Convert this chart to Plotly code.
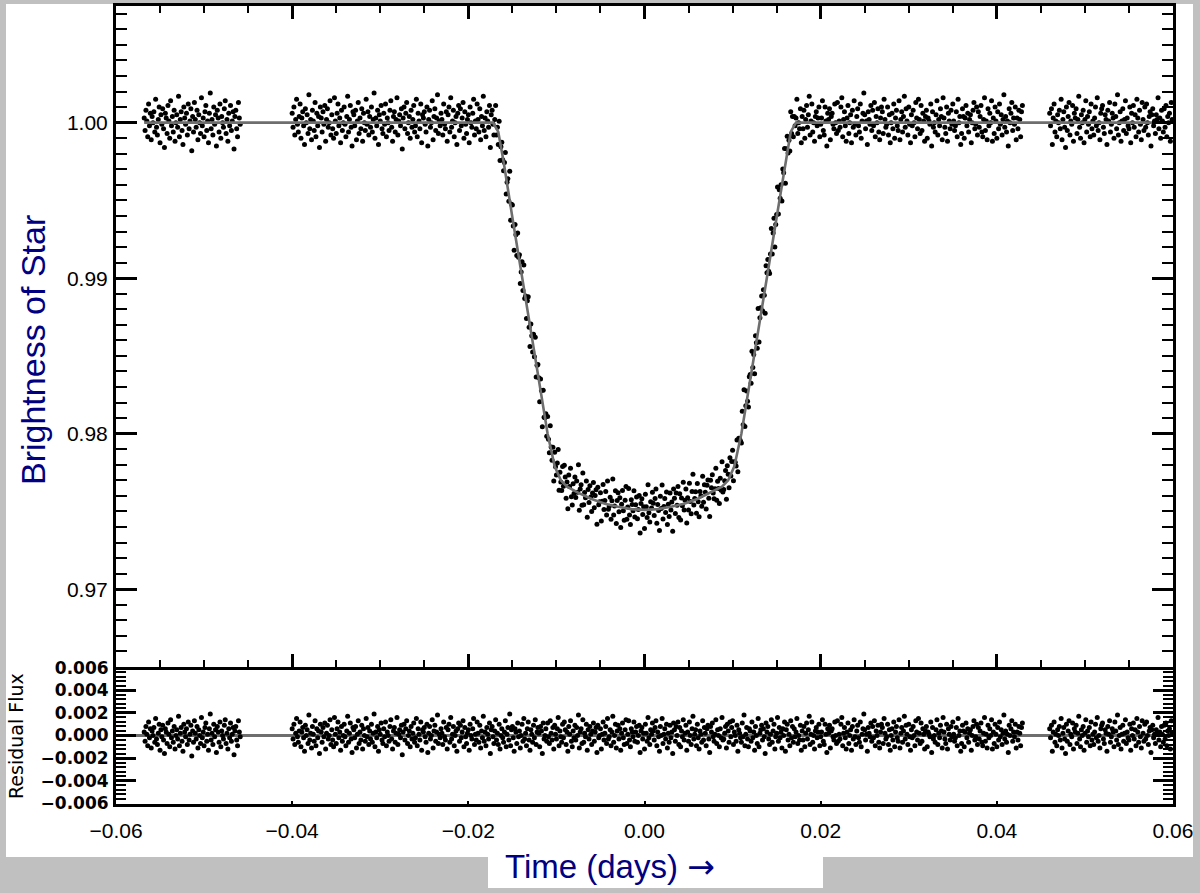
import numpy as np
import plotly.graph_objects as go

# ---------------- data ----------------
# observation times, in units of 1e-4 day
TIME_A = [
    -568, -567, -566, -565, -564, -563, -562, -561, -560, -559,
    -558, -557, -556, -555, -554, -553, -552, -551, -550, -549,
    -548, -547, -546, -545, -544, -543, -542, -541, -540, -539,
    -538, -537, -536, -535, -534, -533, -532, -531, -530, -529,
    -528, -527, -526, -525, -524, -523, -522, -521, -520, -519,
    -518, -517, -516, -515, -514, -513, -512, -511, -510, -509,
    -508, -507, -506, -505, -504, -503, -502, -501, -500, -499,
    -498, -497, -496, -495, -494, -493, -492, -491, -490, -489,
    -488, -487, -486, -485, -484, -483, -482, -481, -480, -479,
    -478, -477, -476, -475, -474, -473, -472, -471, -470, -469,
    -468, -467, -466, -465, -464, -463, -462, -461, -460, -459,
]
TIME_B = [
    -400, -399, -398, -397, -396, -395, -394, -393, -392, -391,
    -390, -389, -388, -387, -386, -385, -384, -383, -382, -381,
    -380, -379, -378, -377, -376, -375, -374, -373, -372, -371,
    -370, -369, -368, -367, -366, -365, -364, -363, -362, -361,
    -360, -359, -358, -357, -356, -355, -354, -353, -352, -351,
    -350, -349, -348, -347, -346, -345, -344, -343, -342, -341,
    -340, -339, -338, -337, -336, -335, -334, -333, -332, -331,
    -330, -329, -328, -327, -326, -325, -324, -323, -322, -321,
    -320, -319, -318, -317, -316, -315, -314, -313, -312, -311,
    -310, -309, -308, -307, -306, -305, -304, -303, -302, -301,
    -300, -299, -298, -297, -296, -295, -294, -293, -292, -291,
    -290, -289, -288, -287, -286, -285, -284, -283, -282, -281,
    -280, -279, -278, -277, -276, -275, -274, -273, -272, -271,
    -270, -269, -268, -267, -266, -265, -264, -263, -262, -261,
    -260, -259, -258, -257, -256, -255, -254, -253, -252, -251,
    -250, -249, -248, -247, -246, -245, -244, -243, -242, -241,
    -240, -239, -238, -237, -236, -235, -234, -233, -232, -231,
    -230, -229, -228, -227, -226, -225, -224, -223, -222, -221,
    -220, -219, -218, -217, -216, -215, -214, -213, -212, -211,
    -210, -209, -208, -207, -206, -205, -204, -203, -202, -201,
    -200, -199, -198, -197, -196, -195, -194, -193, -192, -191,
    -190, -189, -188, -187, -186, -185, -184, -183, -182, -181,
    -180, -179, -178, -177, -176, -175, -174, -173, -172, -171,
    -170, -169, -168, -167, -166, -165, -164, -163, -162, -161,
    -160, -159, -158, -157, -156, -155, -154, -153, -152, -151,
    -150, -149, -148, -147, -146, -145, -144, -143, -142, -141,
    -140, -139, -138, -137, -136, -135, -134, -133, -132, -131,
    -130, -129, -128, -127, -126, -125, -124, -123, -122, -121,
    -120, -119, -118, -117, -116, -115, -114, -113, -112, -111,
    -110, -109, -108, -107, -106, -105, -104, -103, -102, -101,
    -100, -99, -98, -97, -96, -95, -94, -93, -92, -91,
    -90, -89, -88, -87, -86, -85, -84, -83, -82, -81,
    -80, -79, -78, -77, -76, -75, -74, -73, -72, -71,
    -70, -69, -68, -67, -66, -65, -64, -63, -62, -61,
    -60, -59, -58, -57, -56, -55, -54, -53, -52, -51,
    -50, -49, -48, -47, -46, -45, -44, -43, -42, -41,
    -40, -39, -38, -37, -36, -35, -34, -33, -32, -31,
    -30, -29, -28, -27, -26, -25, -24, -23, -22, -21,
    -20, -19, -18, -17, -16, -15, -14, -13, -12, -11,
    -10, -9, -8, -7, -6, -5, -4, -3, -2, -1,
    0, 1, 2, 3, 4, 5, 6, 7, 8, 9,
    10, 11, 12, 13, 14, 15, 16, 17, 18, 19,
    20, 21, 22, 23, 24, 25, 26, 27, 28, 29,
    30, 31, 32, 33, 34, 35, 36, 37, 38, 39,
    40, 41, 42, 43, 44, 45, 46, 47, 48, 49,
    50, 51, 52, 53, 54, 55, 56, 57, 58, 59,
    60, 61, 62, 63, 64, 65, 66, 67, 68, 69,
    70, 71, 72, 73, 74, 75, 76, 77, 78, 79,
    80, 81, 82, 83, 84, 85, 86, 87, 88, 89,
    90, 91, 92, 93, 94, 95, 96, 97, 98, 99,
    100, 101, 102, 103, 104, 105, 106, 107, 108, 109,
    110, 111, 112, 113, 114, 115, 116, 117, 118, 119,
    120, 121, 122, 123, 124, 125, 126, 127, 128, 129,
    130, 131, 132, 133, 134, 135, 136, 137, 138, 139,
    140, 141, 142, 143, 144, 145, 146, 147, 148, 149,
    150, 151, 152, 153, 154, 155, 156, 157, 158, 159,
    160, 161, 162, 163, 164, 165, 166, 167, 168, 169,
    170, 171, 172, 173, 174, 175, 176, 177, 178, 179,
    180, 181, 182, 183, 184, 185, 186, 187, 188, 189,
    190, 191, 192, 193, 194, 195, 196, 197, 198, 199,
    200, 201, 202, 203, 204, 205, 206, 207, 208, 209,
    210, 211, 212, 213, 214, 215, 216, 217, 218, 219,
    220, 221, 222, 223, 224, 225, 226, 227, 228, 229,
    230, 231, 232, 233, 234, 235, 236, 237, 238, 239,
    240, 241, 242, 243, 244, 245, 246, 247, 248, 249,
    250, 251, 252, 253, 254, 255, 256, 257, 258, 259,
    260, 261, 262, 263, 264, 265, 266, 267, 268, 269,
    270, 271, 272, 273, 274, 275, 276, 277, 278, 279,
    280, 281, 282, 283, 284, 285, 286, 287, 288, 289,
    290, 291, 292, 293, 294, 295, 296, 297, 298, 299,
    300, 301, 302, 303, 304, 305, 306, 307, 308, 309,
    310, 311, 312, 313, 314, 315, 316, 317, 318, 319,
    320, 321, 322, 323, 324, 325, 326, 327, 328, 329,
    330, 331, 332, 333, 334, 335, 336, 337, 338, 339,
    340, 341, 342, 343, 344, 345, 346, 347, 348, 349,
    350, 351, 352, 353, 354, 355, 356, 357, 358, 359,
    360, 361, 362, 363, 364, 365, 366, 367, 368, 369,
    370, 371, 372, 373, 374, 375, 376, 377, 378, 379,
    380, 381, 382, 383, 384, 385, 386, 387, 388, 389,
    390, 391, 392, 393, 394, 395, 396, 397, 398, 399,
    400, 401, 402, 403, 404, 405, 406, 407, 408, 409,
    410, 411, 412, 413, 414, 415, 416, 417, 418, 419,
    420, 421, 422, 423, 424, 425, 426, 427, 428, 429,
]
TIME_C = [
    460, 461, 462, 463, 464, 465, 466, 467, 468, 469,
    470, 471, 472, 473, 474, 475, 476, 477, 478, 479,
    480, 481, 482, 483, 484, 485, 486, 487, 488, 489,
    490, 491, 492, 493, 494, 495, 496, 497, 498, 499,
    500, 501, 502, 503, 504, 505, 506, 507, 508, 509,
    510, 511, 512, 513, 514, 515, 516, 517, 518, 519,
    520, 521, 522, 523, 524, 525, 526, 527, 528, 529,
    530, 531, 532, 533, 534, 535, 536, 537, 538, 539,
    540, 541, 542, 543, 544, 545, 546, 547, 548, 549,
    550, 551, 552, 553, 554, 555, 556, 557, 558, 559,
    560, 561, 562, 563, 564, 565, 566, 567, 568, 569,
    570, 571, 572, 573, 574, 575, 576, 577, 578, 579,
    580, 581, 582, 583, 584, 585, 586, 587, 588, 589,
    590, 591, 592, 593, 594, 595, 596, 597, 598, 599,
]

# residual flux (data - model), in units of 1e-4
RESID_A = [
    3, -5, 8, 1, -9, 12, -2, 6, -11, 4,
    0, 7, -6, 15, -3, -8, 2, 10, -13, 5,
    -1, 9, -4, -16, 6, 3, -7, 11, 1, -10,
    14, -2, 4, -6, 8, -12, 0, 5, -3, 17,
    -9, 2, 7, -5, -14, 10, 3, -1, 6, -8,
    12, -4, 1, 9, -18, 4, -6, 13, 2, -3,
    8, -11, 5, 0, -7, 16, -2, 3, -9, 7,
    11, -5, 1, -13, 6, 19, -4, 2, -8, 10,
    -1, 5, -15, 8, 3, -6, 12, -10, 4, 0,
    -3, 9, 14, -7, 2, -12, 6, -2, 11, -5,
    1, 7, -17, 4, 8, -4, -9, 13, 3, -1,
]
RESID_B = [
    6, -3, 10, -8, 2, 15, -1, -6, 4, 12,
    -10, 3, 7, -2, -14, 9, 0, 5, -7, 18,
    -4, 2, -11, 8, 1, -5, 13, -9, 6, -2,
    4, -16, 10, 3, -6, 7, -1, 11, -12, 2,
    9, -3, 0, 14, -8, 5, -4, -10, 16, 1,
    -7, 6, 12, -2, 3, -13, 8, -5, 0, 10,
    -1, -9, 4, 17, -6, 2, 11, -3, -15, 7,
    5, -2, 8, -11, 1, 13, -7, 3, -4, 9,
    -12, 6, 0, -5, 15, -1, 7, -8, 4, -3,
    10, -6, 2, 19, -10, 3, -2, 8, -14, 5,
    1, 11, -4, -7, 6, -1, 12, -9, 3, 0,
    -5, 8, 14, -3, -12, 4, 7, -6, 2, 16,
    -8, 1, 5, -2, 9, -17, 3, 10, -4, 6,
    13, -7, 0, 4, -10, 8, -3, 2, 11, -6,
    -2, 15, -9, 6, 1, -4, 12, -13, 5, 3,
    7, -1, -6, 10, -15, 2, 8, -3, 0, 14,
    -11, 4, 9, -5, 3, 18, -7, 1, -2, 6,
    2, -8, 12, -1, -4, 7, -12, 5, 10, -6,
    16, -3, 1, 8, -9, 0, 4, -14, 6, 11,
    -5, 9, -2, 3, 13, -10, 7, -1, -7, 2,
    5, -13, 10, 0, -3, 6, 15, -8, 1, -4,
    12, 2, -6, 9, -11, 4, -2, 17, -5, 3,
    -9, 7, 1, -3, 11, -16, 5, 8, -1, -7,
    4, 14, -4, 2, -8, 10, -12, 0, 6, -2,
    -6, 3, 13, -10, 1, 7, -4, 19, -9, 5,
    8, -2, -14, 6, 3, -7, 11, -1, 4, -11,
    0, 10, -5, 15, -3, 2, -9, 6, 12, -4,
    -13, 5, 1, -6, 9, -2, 14, -8, 3, 7,
    2, -10, 8, 4, -16, 11, -3, 0, 6, -5,
    11, -1, -7, 13, 2, -4, 7, -12, 9, 1,
    -3, 6, 16, -9, 4, -1, -6, 10, -2, 12,
    5, -8, 3, -14, 8, 1, 13, -5, -10, 4,
    -2, 9, -4, 7, 0, 18, -11, 3, 6, -7,
    14, -6, 2, -1, 10, -13, 5, -3, 8, 1,
    -8, 4, 11, -5, 3, 7, -15, 9, -2, 0,
    6, -12, 1, 12, -4, 2, 8, -7, 15, -3,
    -1, 5, -9, 3, 17, -6, 0, 10, -11, 4,
    9, -3, 6, -13, 2, 11, -2, -8, 5, 14,
    -7, 1, 13, -4, -10, 6, 3, -1, 12, -5,
    3, 8, -6, 0, 9, -15, 4, 7, -3, 2,
    -12, 10, 2, -5, 16, -2, -8, 5, 1, 11,
    4, -4, 7, 13, -9, 3, -1, -14, 8, 0,
    15, -7, 1, 6, -3, 10, -11, 2, -6, 9,
    -2, 3, -16, 11, 5, -5, 8, 0, 12, -8,
    7, -10, 4, -1, 14, -4, 2, 9, -13, 3,
    -5, 12, 0, -8, 6, 17, -3, 1, 5, -9,
    10, -2, -12, 4, 1, -6, 13, -4, 7, 2,
    -9, 6, 9, -3, -15, 8, 3, 11, -1, -5,
    1, 14, -7, 5, 0, -10, 6, -2, 16, -4,
    -3, 2, 8, -11, 10, 4, -6, 12, -1, 7,
    13, -8, 3, 0, -5, 9, -14, 5, 2, -2,
    -6, 11, -1, 18, -9, 1, 7, -3, -10, 6,
    4, -5, 12, -2, 3, -13, 8, 0, -7, 15,
    -10, 2, 5, 9, -4, 6, -1, -16, 11, 3,
    8, -3, -8, 1, 14, -6, 4, 10, -12, -1,
    2, 16, -5, 7, -2, 3, -11, 6, 0, 12,
    -14, 5, 10, -4, 1, -9, 13, -2, 8, -6,
    6, -1, 3, 15, -7, 0, -4, 9, -13, 4,
    -4, 8, -10, 2, 11, -3, 5, 17, -8, 1,
    12, -6, 0, -12, 4, 7, -2, 3, 10, -9,
    -1, 3, 14, -5, -8, 10, 1, -15, 6, 2,
    9, -11, 4, 6, -1, -4, 12, 0, -7, 13,
    -5, 1, -3, 10, 16, -9, 2, 7, -2, -12,
    3, 11, -7, 0, 5, -13, 8, -3, 14, -1,
    -8, 4, 9, -2, -6, 12, -10, 1, 6, 19,
    5, -4, 1, -14, 7, 2, -1, 11, -5, 8,
    -2, 13, -9, 4, 0, 9, -6, -11, 3, 10,
    7, -7, 15, 2, -3, -1, 10, -8, 5, -13,
    0, 6, -4, 12, -10, 3, 8, -2, -5, 14,
    -11, 2, 7, -6, 4, 17, -3, 9, 1, -8,
    10, -1, -13, 5, -2, 8, 0, -9, 13, 3,
    -4, 15, 2, -7, 11, -5, 6, 1, -12, 4,
    8, -10, 3, 1, -1, 12, -15, 7, -3, 0,
    -6, 5, 14, -8, 2, -2, 9, 4, -11, 16,
    3, -3, -7, 10, -12, 6, 1, -4, 8, -1,
    12, 1, -5, -2, 7, -9, 15, 0, 4, -14,
    -7, 9, 4, -10, 3, 11, -2, 6, -6, 2,
    5, -13, 0, 8, 13, -4, -1, 10, -8, 7,
    -3, 4, 11, -6, -9, 2, 16, -5, 1, -11,
    9, -2, 6, 0, 14, -12, 3, -7, 10, 1,
    -10, 7, -4, 12, -1, 5, -8, 2, 18, -3,
    4, -6, 1, -15, 9, 0, 6, 13, -5, 3,
    -1, 10, -11, 3, -4, 8, 2, -9, 7, 11,
]
RESID_C = [
    6, -2, 9, -14, 3, 12, -6, 1, -9, 5,
    0, 8, -4, 15, -11, 2, 7, -3, -16, 10,
    -5, 4, 13, -8, 1, -1, 11, -12, 6, 3,
    9, -7, 2, 17, -3, -10, 5, 0, 8, -13,
    2, 14, -6, 4, -1, 7, -9, 12, -4, 1,
    -8, 3, 10, -2, 16, -5, 0, -11, 6, 9,
    11, -3, -7, 5, 2, -14, 8, 1, 13, -6,
    -1, 6, 3, -10, 12, 4, -4, 18, -8, 0,
    7, -12, 1, 9, -5, 2, 14, -7, 3, -2,
    -4, 10, -13, 6, 0, 11, -3, 5, -9, 15,
    3, -6, 8, -1, -11, 13, 2, -5, 10, -3,
    12, 0, -8, 4, 7, -15, 5, 9, -2, 1,
    -7, 5, 2, 16, -4, 3, -10, 8, 1, -6,
    9, -3, 11, -9, 4, 0, 6, -12, 13, 2,
]

# fitted transit model (time in days, relative brightness)
MODEL_T = [-0.0568, -0.0172, -0.0166, -0.0160, -0.0150, -0.0140, -0.0130,
           -0.0120, -0.0110, -0.0102, -0.0095, -0.0088, -0.0075, -0.0060,
           -0.0045, -0.0030, -0.0015, 0.0, 0.0015, 0.0030, 0.0045, 0.0060,
           0.0075, 0.0088, 0.0095, 0.0102, 0.0110, 0.0120, 0.0130, 0.0140,
           0.0150, 0.0160, 0.0166, 0.0172, 0.0600]
MODEL_F = [1.0000, 1.0000, 0.9994, 0.9975, 0.9939, 0.9904, 0.9869,
           0.9834, 0.9800, 0.9779, 0.9770, 0.9766, 0.9762, 0.9758,
           0.9755, 0.9753, 0.97515, 0.9751, 0.97515, 0.9753, 0.9755, 0.9758,
           0.9762, 0.9766, 0.9770, 0.9779, 0.9800, 0.9834, 0.9869, 0.9904,
           0.9939, 0.9975, 0.9994, 1.0000, 1.0000]

X_TICKS = [-0.06, -0.04, -0.02, 0.0, 0.02, 0.04, 0.06]
X_TICK_TEXT = ["\u22120.06", "\u22120.04", "\u22120.02", "0.00", "0.02", "0.04", "0.06"]
Y_TICKS = [0.97, 0.98, 0.99, 1.00]
Y_TICK_TEXT = ["0.97", "0.98", "0.99", "1.00"]
R_TICKS = [-0.006, -0.004, -0.002, 0.0, 0.002, 0.004, 0.006]
R_TICK_TEXT = ["\u22120.006", "\u22120.004", "\u22120.002", "0.000", "0.002", "0.004", "0.006"]

# ---------------- derived ----------------
t = np.array(TIME_A + TIME_B + TIME_C, dtype=float) * 1e-4
resid = np.array(RESID_A + RESID_B + RESID_C, dtype=float) * 1e-4
flux = np.interp(t, MODEL_T, MODEL_F) + resid

# ---------------- layout geometry ----------------
W, H = 1200, 893
ML, MR, MT, MB = 116, 27, 6, 89
PW, PH = W - ML - MR, H - MT - MB


def px(xp):
    return (xp - ML) / PW


def py(yp):
    return (H - MB - yp) / PH


split = py(667)
NAVY = "#000080"
GRAY = "#6e6e6e"
FONT = "Liberation Sans, Arial, Helvetica, sans-serif"
DJV = "DejaVu Sans, Verdana, sans-serif"

fig = go.Figure()
fig.add_trace(go.Scatter(x=t, y=flux, mode="markers", xaxis="x", yaxis="y",
                         marker=dict(color="black", size=5, line=dict(width=0)),
                         hoverinfo="skip", showlegend=False))
fig.add_trace(go.Scatter(x=MODEL_T, y=MODEL_F, mode="lines", xaxis="x", yaxis="y",
                         line=dict(color=GRAY, width=2.6), hoverinfo="skip",
                         showlegend=False))
fig.add_trace(go.Scatter(x=t, y=resid, mode="markers", xaxis="x2", yaxis="y2",
                         marker=dict(color="black", size=5, line=dict(width=0)),
                         hoverinfo="skip", showlegend=False))

common_axis = dict(showline=True, linewidth=3, linecolor="black", showgrid=False,
                   zeroline=False, tickcolor="black", ticks="inside",
                   automargin=False,
                   tickfont=dict(family=FONT, size=21, color="black"))

fig.update_layout(
    width=W, height=H,
    margin=dict(l=ML, r=MR, t=MT, b=MB, pad=0, autoexpand=False),
    paper_bgcolor="#c0c0c0",
    plot_bgcolor="white",
    showlegend=False,
    xaxis=dict(**common_axis, domain=[0, 1], anchor="y", range=[-0.06, 0.06],
               tickmode="array", tickvals=X_TICKS, ticktext=X_TICK_TEXT,
               showticklabels=False, ticklen=13, tickwidth=2.5, mirror="ticks",
               minor=dict(ticks="inside", ticklen=7, tickwidth=2, dtick=0.005,
                          tick0=0, tickcolor="black", showgrid=False)),
    yaxis=dict(**common_axis, domain=[split, 1], anchor="x", range=[0.965, 1.0075],
               tickmode="array", tickvals=Y_TICKS, ticktext=Y_TICK_TEXT,
               ticklen=21, tickwidth=2.5, mirror="ticks", ticklabelstandoff=1,
               minor=dict(ticks="inside", ticklen=11, tickwidth=2, dtick=0.001,
                          tick0=0, tickcolor="black", showgrid=False)),
    xaxis2=dict(**common_axis, domain=[0, 1], anchor="y2", range=[-0.06, 0.06],
                tickmode="array", tickvals=X_TICKS, ticktext=X_TICK_TEXT,
                ticklen=3, tickwidth=2, mirror=False, ticklabelstandoff=6),
    yaxis2=dict(**common_axis, domain=[0, split], anchor="x2",
                range=[-0.00605, 0.00605],
                tickmode="array", tickvals=R_TICKS, ticktext=R_TICK_TEXT,
                ticklen=20, tickwidth=2.5, mirror="ticks", ticklabelstandoff=1,
                minor=dict(ticks="inside", ticklen=10, tickwidth=2, dtick=0.0004,
                           tick0=0, tickcolor="black", showgrid=False)),
)
fig.layout.yaxis2.tickfont = dict(family=DJV, size=17, color="black", weight="bold")
fig.layout.yaxis2.zeroline = True
fig.layout.yaxis2.zerolinecolor = GRAY
fig.layout.yaxis2.zerolinewidth = 2.6

# white page and white label box on grey background
fig.add_shape(type="rect", xref="paper", yref="paper", layer="below",
              x0=px(6), x1=px(1193), y0=py(857), y1=py(4),
              fillcolor="white", line=dict(width=0))
fig.add_shape(type="rect", xref="paper", yref="paper", layer="below",
              x0=px(488), x1=px(823), y0=py(888), y1=py(856),
              fillcolor="white", line=dict(width=0))

fig.add_annotation(text="Brightness of Star", xref="paper", yref="paper",
                   x=px(33), y=py(350), textangle=-90, showarrow=False,
                   xanchor="center", yanchor="middle",
                   font=dict(family=FONT, size=34, color=NAVY))
fig.add_annotation(text="Residual Flux", xref="paper", yref="paper",
                   x=px(16), y=py(736), textangle=-90, showarrow=False,
                   xanchor="center", yanchor="middle",
                   font=dict(family=DJV, size=19, color="black"))
fig.add_annotation(text="Time (days) <span style='font-family:DejaVu Sans'>\u2192</span>",
                   xref="paper", yref="paper",
                   x=px(610), y=py(866), showarrow=False,
                   xanchor="center", yanchor="middle",
                   font=dict(family=FONT, size=33, color=NAVY))

fig.write_html("out.html")
